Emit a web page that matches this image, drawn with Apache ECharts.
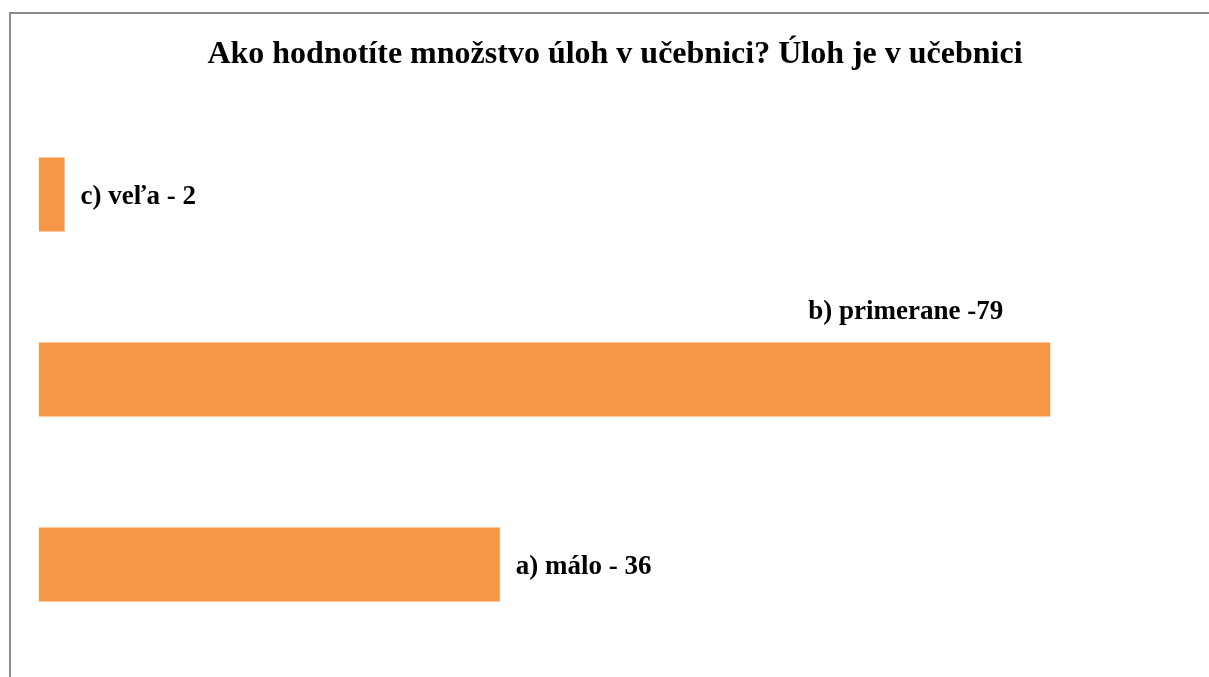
<!DOCTYPE html>
<html>
<head>
<meta charset="utf-8">
<script src="https://cdn.jsdelivr.net/npm/echarts@6/dist/echarts.min.js"></script>
<style>
  html, body { margin: 0; padding: 0; background: #fff; }
  #frame {
    position: absolute; left: 9px; top: 12px; width: 1300px; height: 800px;
    border-left: 2px solid #8c8c8c; border-top: 2px solid #8c8c8c;
  }
  #chart { position: absolute; left: 0; top: 0; width: 1209px; height: 677px; }
</style>
</head>
<body>
<div id="frame"></div>
<div id="chart"></div>
<script>
// Data
const categories = ['a) málo', 'b) primerane', 'c) veľa'];
const values = [36, 79, 2];
const labels = ['a) málo - 36', 'b) primerane -79', 'c) veľa - 2'];

const font = '"Liberation Serif", "Times New Roman", serif';
const barColor = '#F79646';

const seriesData = values.map(function (v, i) {
    const item = { value: v };
    if (i === 1) {
        // label sits above the bar, right-aligned near its end
        item.label = {
            position: ['100%', 0],
            align: 'right',
            verticalAlign: 'middle',
            offset: [-47, -30]
        };
    }
    return item;
});

const chart = echarts.init(document.getElementById('chart'));

chart.setOption({
    animation: false,
    title: {
        text: 'Ako hodnotíte množstvo úloh v učebnici? Úloh je v učebnici',
        left: 610,
        top: 34,
        textAlign: 'center',
        textStyle: {
            fontFamily: font,
            fontWeight: 'bold',
            fontSize: 32,
            color: '#000'
        }
    },
    grid: {
        left: 39,
        top: 102,
        height: 555,
        right: 18
    },
    xAxis: {
        type: 'value',
        min: 0,
        max: 90,
        show: false
    },
    yAxis: {
        type: 'category',
        data: categories,
        show: false
    },
    series: [
        {
            type: 'bar',
            data: seriesData,
            barCategoryGap: '60%',
            itemStyle: { color: barColor },
            label: {
                show: true,
                position: 'right',
                distance: 16,
                offset: [0, 3],
                fontFamily: font,
                fontWeight: 'bold',
                fontSize: 27,
                color: '#000',
                formatter: function (p) {
                    return labels[p.dataIndex];
                }
            }
        }
    ]
});
</script>
</body>
</html>
